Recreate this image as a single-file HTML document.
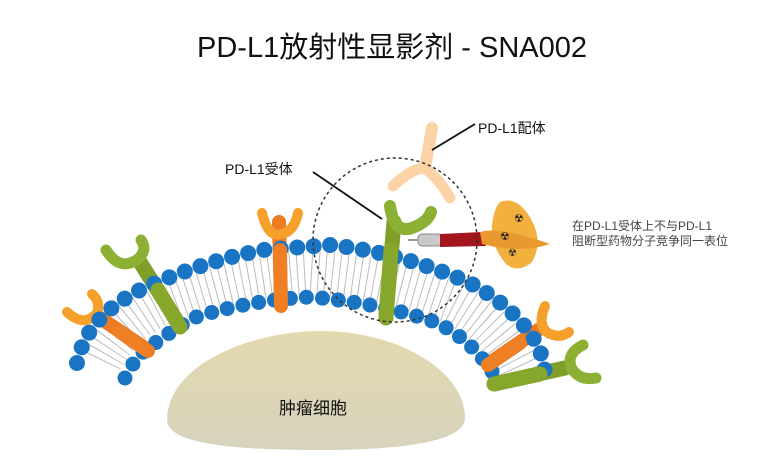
<!DOCTYPE html>
<html><head><meta charset="utf-8"><style>
html,body{margin:0;padding:0;background:#fff;}
body{width:781px;height:471px;overflow:hidden;position:relative;font-family:"Liberation Sans","Noto Sans CJK SC",sans-serif;}
.t{position:absolute;white-space:nowrap;color:#111;}
</style></head><body>
<svg width="781" height="471" style="position:absolute;left:0;top:0">
<defs>
<linearGradient id="tum" x1="0" y1="0" x2="0" y2="1"><stop offset="0" stop-color="#e3d9ae"/><stop offset="1" stop-color="#d7d3bd"/></linearGradient>
</defs>
<path d="M167,420 C168,362 255,331 320,331 C400,331 465,372 465,418 C465,442 400,450 320,450 C240,450 167,445 167,420Z" fill="url(#tum)"/>
<path d="M101,360 Q118,325 158,305 Q230,276 305,272 Q385,276 452,302 Q500,325 520,375" fill="none" stroke="#555" stroke-width="44" stroke-dasharray="1 6" opacity="0.4"/>
<g fill="none" stroke-linecap="round">
<path d="M386,316 L394,222" stroke="#7f9f28" stroke-width="15"/>
<path d="M390,206 Q394,234 412,228 Q428,222 431,212" stroke="#8cb034" stroke-width="12"/>
<path d="M281,305 L279,222" stroke="#ee7a22" stroke-width="14"/>
<path d="M262,213 Q268,238 281,234 Q294,232 298,213" stroke="#f4a02a" stroke-width="10"/>
<path d="M180,326 L140,262" stroke="#7f9f28" stroke-width="15"/>
<path d="M106,250 Q120,272 138,259 Q148,250 141,240" stroke="#8cb034" stroke-width="11"/>
<path d="M148,350 L100,318" stroke="#ee7a22" stroke-width="14"/>
<path d="M67,312 Q84,328 97,313 Q101,302 92,294" stroke="#f4a02a" stroke-width="10"/>
<path d="M488,364 L538,330" stroke="#ee7a22" stroke-width="14"/>
<path d="M545,306 Q537,325 548,333 Q560,339 569,332" stroke="#f4a02a" stroke-width="10"/>
<path d="M494,384 L565,368" stroke="#7f9f28" stroke-width="15"/>
<path d="M583,345 Q565,354 572,369 Q580,381 596,378" stroke="#8cb034" stroke-width="11"/>
<path d="M432,128 L425,168" stroke="#fcd3a6" stroke-width="12"/>
<path d="M393,186 Q412,168 425,168 Q440,180 450,198" stroke="#fcd3a6" stroke-width="11"/>
</g>
<path d="M77,363 L83,343 Q100,310 140,290 Q200,262 263,250 L330,245 Q400,252 470,283 Q520,310 540,350 L547,380" fill="none" stroke="#1a74c4" stroke-width="16" stroke-linecap="round" stroke-dasharray="0 16.5"/>
<path d="M125,378 L137,357 Q160,338 193,318 Q250,300 310,297 Q380,303 435,322 Q470,338 493,373" fill="none" stroke="#1a74c4" stroke-width="15" stroke-linecap="round" stroke-dasharray="0 16"/>
<g fill="none" stroke-linecap="round">
<path d="M386,318 L391,250" stroke="#86a62c" stroke-width="15"/>
<path d="M281,306 L280,250" stroke="#ef7f24" stroke-width="14"/>
<path d="M180,327 L158,290" stroke="#86a62c" stroke-width="15"/>
<path d="M148,351 L120,332" stroke="#ef7f24" stroke-width="14"/>
<path d="M488,365 L520,343" stroke="#ef7f24" stroke-width="14"/>
<path d="M494,384 L540,374" stroke="#86a62c" stroke-width="15"/>
</g>
<rect x="418" y="234" width="24" height="12" rx="4" fill="#c9c9c9" stroke="#888" stroke-width="1"/>
<line x1="408" y1="240" x2="418" y2="240" stroke="#999" stroke-width="2"/>
<path d="M440,234 L482,232 L486,246 L440,247Z" fill="#a3141c"/>
<path d="M500,202 Q515,196 528,214 Q545,240 532,262 Q518,274 506,264 Q490,245 492,225 Q494,208 500,202Z" fill="#f2b13e"/>
<path d="M480,232 Q500,226 550,244 Q520,254 482,244Z" fill="#e99a2e"/>
<text x="514" y="222" font-size="11" fill="#222">☢</text>
<text x="500" y="240" font-size="11" fill="#222">☢</text>
<text x="508" y="256" font-size="10" fill="#222">☢</text>
<circle cx="395" cy="240" r="82" fill="none" stroke="#333" stroke-width="1.5" stroke-dasharray="3 3"/>
<line x1="475" y1="124" x2="432" y2="150" stroke="#111" stroke-width="1.8"/>
<line x1="313" y1="172" x2="382" y2="219" stroke="#111" stroke-width="1.8"/>
</svg>
<div class="t" style="left:197px;top:24px;font-size:29px;">PD-L1放射性显影剂 - SNA002</div>
<div class="t" style="left:478px;top:118px;font-size:14px;">PD-L1配体</div>
<div class="t" style="left:225px;top:159px;font-size:14px;">PD-L1受体</div>
<div class="t" style="left:572px;top:219px;font-size:12px;color:#444;line-height:15px;">在PD-L1受体上不与PD-L1<br>阻断型药物分子竞争同一表位</div>
<div class="t" style="left:279px;top:394px;font-size:17px;">肿瘤细胞</div>
</body></html>
